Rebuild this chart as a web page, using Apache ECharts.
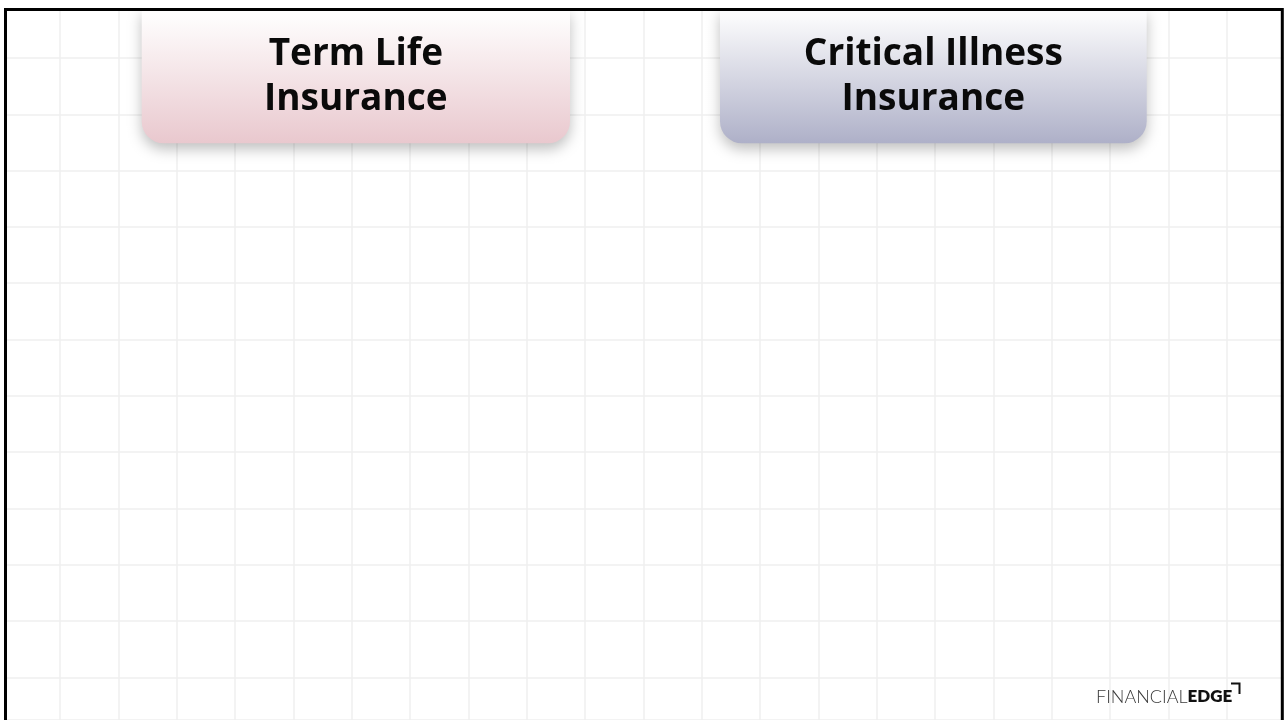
<!DOCTYPE html>
<html>
<head>
<meta charset="utf-8">
<script src="https://cdn.jsdelivr.net/npm/echarts@6/dist/echarts.min.js"></script>
<style>
html,body{margin:0;padding:0;background:#fff;}
#c{width:1285px;height:720px;}
</style>
</head>
<body>
<div id="c"></div>
<script>
// Content
const headers = ['Term Life\nInsurance', 'Critical Illness\nInsurance'];
const gridColumns = 22;   // background grid cells across
const gridRows = 12;      // full background grid cells down
const brandLight = 'FINANCIAL';
const brandBold = 'EDGE';

const chart = echarts.init(document.getElementById('c'), null, {renderer: 'canvas'});

const boxes = [
  {x: 141.7, w: 428.3, top: '#fefdfd', bottom: '#e9c8ce'},
  {x: 720, w: 426.7, top: '#fbfbfc', bottom: '#aeb0c8'}
];

const graphics = [];
headers.forEach((h, i) => {
  const b = boxes[i];
  graphics.push({
    type: 'rect', z: 10,
    shape: {x: b.x, y: 9, width: b.w, height: 134.3, r: [0, 0, 22, 22]},
    style: {
      fill: new echarts.graphic.LinearGradient(0, 0, 0, 1, [
        {offset: 0.05, color: b.top},
        {offset: 1, color: b.bottom}
      ]),
      shadowBlur: 14, shadowOffsetY: 6, shadowColor: 'rgba(0,0,0,0.25)'
    }
  });
  graphics.push({
    type: 'text', z: 11,
    x: b.x + b.w / 2, y: 77,
    style: {
      text: h, fill: '#0a0a0a',
      font: '700 37px "Open Sans"',
      lineHeight: 45,
      align: 'center', verticalAlign: 'middle'
    }
  });
});

// logo
graphics.push({
  type: 'text', z: 11, x: 1096, y: 697,
  style: {
    text: '{a|' + brandLight + '}{b|' + brandBold + '}',
    align: 'left', verticalAlign: 'middle',
    rich: {
      a: {font: '300 18px Lato', fill: '#3a3a3a'},
      b: {font: '800 17px Lato', fill: '#111'}
    }
  }
});
graphics.push({
  type: 'polyline', z: 11,
  shape: {points: [[1231, 683.5], [1239.5, 683.5], [1239.5, 694]]},
  style: {stroke: '#111', lineWidth: 2, fill: null}
});

// white margin outside frame
graphics.push({type: 'rect', z: 19, shape: {x: 0, y: 0, width: 1285, height: 8}, style: {fill: '#fff'}});
graphics.push({type: 'rect', z: 19, shape: {x: 0, y: 0, width: 4, height: 720}, style: {fill: '#fff'}});
graphics.push({type: 'rect', z: 19, shape: {x: 1284, y: 0, width: 1, height: 720}, style: {fill: '#fff'}});

// frame
graphics.push({
  type: 'rect', z: 20,
  shape: {x: 5.5, y: 9.5, width: 1276.8, height: 730},
  style: {fill: null, stroke: '#000', lineWidth: 3}
});

const rowH = 56.3;
const gridTop = 1.7;
const yMax = (720 - gridTop) / rowH;

chart.setOption({
  animation: false,
  backgroundColor: '#ffffff',
  grid: {left: 1.67, top: gridTop, right: 0, bottom: 0, containLabel: false},
  xAxis: {
    type: 'value', min: 0, max: gridColumns, interval: 1,
    axisLine: {show: false}, axisTick: {show: false}, axisLabel: {show: false},
    splitLine: {show: true, lineStyle: {color: '#efefef', width: 1.5}}
  },
  yAxis: {
    type: 'value', min: 0, max: yMax, interval: 1, inverse: true,
    axisLine: {show: false}, axisTick: {show: false}, axisLabel: {show: false},
    splitLine: {show: true, lineStyle: {color: '#efefef', width: 1.5}}
  },
  series: [],
  graphic: graphics
});
</script>
</body>
</html>
